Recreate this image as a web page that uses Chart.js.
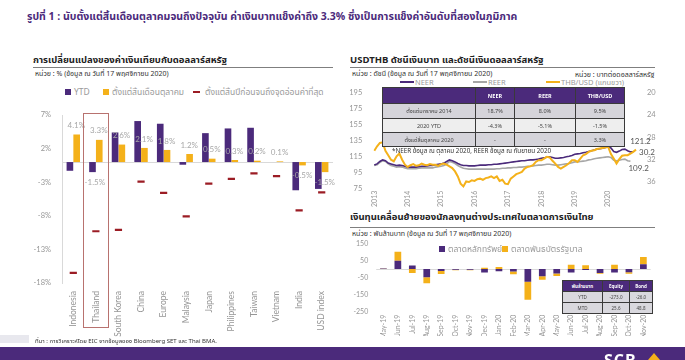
<!DOCTYPE html>
<html>
<head>
<meta charset="utf-8">
<title>ค่าเงินบาทและเงินทุนเคลื่อนย้าย</title>
<script src="https://cdn.jsdelivr.net/npm/chart.js"></script>
<style>
  body { margin: 0; background: #fff; font-family: "Noto Sans Thai", "Noto Sans", "DejaVu Sans", sans-serif; }
  #page { position: relative; width: 685px; height: 360px; overflow: hidden; background: #fff; }
  .t { position: absolute; white-space: nowrap; line-height: 1; }
  .box { position: absolute; }
  canvas { position: absolute; }
  .rule { position: absolute; height: 1px; background: #7f7f7f; }
  .lg { position: absolute; white-space: nowrap; font-size: 8.5px; color: #9a9a9a; line-height: 1; }
  .sq { display: inline-block; width: 6px; height: 6px; vertical-align: 0px; margin-right: 3px; }
  .ln { display: inline-block; width: 14px; height: 2px; vertical-align: 2px; margin-right: 1px; }
  table { position: absolute; border-collapse: collapse; table-layout: fixed; }
  td { border: 1px solid #3a3a3a; text-align: center; padding: 0; color: #444; overflow: hidden; white-space: nowrap; }
  tr.h td { background: #4b2a7b; color: #fff; font-weight: bold; }
</style>
</head>
<body>
<div id="page">
  <div class="t" style="left:27px;top:12px;font-size:10.5px;font-weight:bold;color:#4b2a7b;">รูปที่ 1 : นับตั้งแต่สิ้นเดือนตุลาคมจนถึงปัจจุบัน ค่าเงินบาทแข็งค่าถึง 3.3% ซึ่งเป็นการแข็งค่าอันดับที่สองในภูมิภาค</div>

  <!-- ซ้าย -->
  <div class="t" style="left:33px;top:56px;font-size:9.5px;font-weight:bold;color:#222;">การเปลี่ยนแปลงของค่าเงินเทียบกับดอลลาร์สหรัฐ</div>
  <div class="rule" style="left:33px;top:67px;width:300px;"></div>
  <div class="t" style="left:35px;top:71px;font-size:7px;color:#333;">หน่วย : % (ข้อมูล ณ วันที่ 17 พฤศจิกายน 2020)</div>
  <div class="lg" style="left:65px;top:89px;"><span class="sq" style="background:#4b2a7b"></span>YTD</div>
  <div class="lg" style="left:103px;top:89px;"><span class="sq" style="background:#f4b11a"></span>ตั้งแต่สิ้นเดือนตุลาคม</div>
  <div class="lg" style="left:193px;top:89px;"><span class="ln" style="width:7px;background:#9b1c24;margin-right:5px"></span>ตั้งแต่สิ้นปีก่อนจนถึงจุดอ่อนค่าที่สุด</div>
  <canvas id="fxChart" width="320" height="235" style="left:20px;top:105px;"></canvas>

  <!-- ขวาบน -->
  <div class="t" style="left:350px;top:56px;font-size:9.5px;font-weight:bold;color:#222;">USDTHB ดัชนีเงินบาท และดัชนีเงินดอลลาร์สหรัฐ</div>
  <div class="rule" style="left:350px;top:67px;width:305px;"></div>
  <div class="t" style="left:352px;top:71px;font-size:7px;color:#333;">หน่วย : ดัชนี (ข้อมูล ณ วันที่ 17 พฤศจิกายน 2020)</div>
  <div class="t" style="left:575px;top:72px;font-size:7px;color:#333;">หน่วย : บาทต่อดอลลาร์สหรัฐ</div>
  <div class="lg" style="left:400px;top:79px;font-size:7.5px;"><span class="ln" style="background:#4b2a7b"></span>NEER</div>
  <div class="lg" style="left:473px;top:79px;font-size:7.5px;"><span class="ln" style="background:#a6a6a6"></span>REER</div>
  <div class="lg" style="left:546px;top:79px;font-size:7.5px;"><span class="ln" style="background:#f4b11a"></span>THB/USD (แกนขวา)</div>
  <canvas id="idxChart" width="330" height="125" style="left:345px;top:85px;"></canvas>
  <table style="left:382px;top:87px;width:242px;font-size:5.5px;">
    <colgroup><col style="width:93px"><col style="width:39px"><col style="width:61px"><col style="width:49px"></colgroup>
    <tr class="h" style="height:16px"><td></td><td>NEER</td><td>REER</td><td>THB/USD</td></tr>
    <tr style="height:15px;background:#d5d4da"><td>ตั้งแต่มกราคม 2014</td><td>18.7%</td><td>8.0%</td><td>9.5%</td></tr>
    <tr style="height:14px;background:#eeeeee"><td>2020 YTD</td><td>-4.3%</td><td>-5.1%</td><td>-1.5%</td></tr>
    <tr style="height:14px;background:#d5d4da"><td>ตั้งแต่สิ้นตุลาคม 2020</td><td>-</td><td>-</td><td>3.3%</td></tr>
  </table>
  <div class="t" style="left:392px;top:148px;font-size:6.3px;color:#333;">*NEER ข้อมูล ณ ตุลาคม 2020, REER ข้อมูล ณ กันยายน 2020</div>

  <!-- ขวาล่าง -->
  <div class="t" style="left:350px;top:213px;font-size:9.5px;font-weight:bold;color:#222;">เงินทุนเคลื่อนย้ายของนักลงทุนต่างประเทศในตลาดการเงินไทย</div>
  <div class="rule" style="left:350px;top:227px;width:305px;"></div>
  <div class="t" style="left:352px;top:231px;font-size:7px;color:#333;">หน่วย : พันล้านบาท (ข้อมูล ณ วันที่ 17 พฤศจิกายน 2020)</div>
  <canvas id="flowChart" width="315" height="100" style="left:345px;top:236px;"></canvas>
  <div class="lg" style="left:439px;top:246px;"><span class="sq" style="background:#4b2a7b"></span>ตลาดหลักทรัพย์</div>
  <div class="lg" style="left:502px;top:246px;"><span class="sq" style="background:#f4b11a"></span>ตลาดพันธบัตรรัฐบาล</div>
  <table style="left:562px;top:280px;width:90px;font-size:4.5px;">
    <colgroup><col style="width:40px"><col style="width:27px"><col style="width:23px"></colgroup>
    <tr class="h" style="height:11px"><td>พันล้านบาท</td><td>Equity</td><td>Bond</td></tr>
    <tr style="height:11px;background:#d9d8de"><td>YTD</td><td>-273.0</td><td>-26.0</td></tr>
    <tr style="height:11px;background:#d9d8de"><td>MTD</td><td>25.6</td><td>48.8</td></tr>
  </table>

  <div class="box" style="left:0;top:335px;width:29px;height:8px;background:#e8e8ee;"></div>
  <div class="t" style="left:35px;top:339px;font-size:6px;color:#333;">ที่มา : การวิเคราะห์โดย EIC จากข้อมูลของ Bloomberg SET และ Thai BMA.</div>
  <div class="box" style="left:0;top:347px;width:685px;height:13px;background:#4b2a7b;"></div>
  <div class="t" style="left:604px;top:353px;font-size:16px;font-weight:bold;color:#fff;letter-spacing:1px;">SCB</div>
  <div class="box" style="left:648px;top:353px;width:0;height:0;border-left:6px solid transparent;border-right:6px solid transparent;border-bottom:7px solid #f4b11a;"></div>
</div>

<script>
  const PURPLE = '#4b2a7b';
  const ORANGE = '#f4b11a';
  const DASH_RED = '#9b1c24';
  const GRAY_TXT = '#969696';
  const FONT = 'Lato, "Noto Sans Thai", sans-serif';
  Chart.defaults.font.family = FONT;

  // scale paddings from tick labels would push the plot area down, so drop them
  function noPad(s) {
    s.paddingTop = 0; s.paddingBottom = 0; s.paddingLeft = 0; s.paddingRight = 0;
  }

  // ---- กราฟซ้าย: การเปลี่ยนแปลงของค่าเงิน (%)
  const countries = ['Indonesia', 'Thailand', 'South Korea', 'China', 'Europe', 'Malaysia',
                     'Japan', 'Philippines', 'Taiwan', 'Vietnam', 'India', 'USD index'];
  const ytd      = [-1.3, -1.5, 4.4, 6.1, 5.7, -0.4, 4.3, 5.0, 5.1, 0.0, -4.2, -4.0];
  const sinceOct = [4.1, 3.3, 2.6, 2.1, 1.8, 1.2, 0.5, 0.3, 0.2, 0.1, -0.5, -1.5];
  const worstPt  = [-16.5, -10.3, -10.1, -2.9, -4.6, -8.1, -3.2, -2.5, -1.7, -2.1, -7.2, -4.5];
  const highlight = 'Thailand';

  const fxPlugin = {
    id: 'fxExtras',
    beforeDatasetsDraw(chart) {
      const { ctx, chartArea, scales: { y } } = chart;
      const y0 = Math.round(y.getPixelForValue(0)) + 0.5;
      ctx.save();
      ctx.strokeStyle = '#d9d9d9';
      ctx.lineWidth = 1;
      ctx.beginPath();
      ctx.moveTo(chartArea.left, y0);
      ctx.lineTo(chartArea.right, y0);
      ctx.stroke();
      ctx.restore();
    },
    afterDatasetsDraw(chart) {
      const { ctx, scales: { x, y } } = chart;
      const barsOct = chart.getDatasetMeta(1).data;
      const barsYtd = chart.getDatasetMeta(0).data;
      ctx.save();
      ctx.font = '8px ' + FONT;
      ctx.fillStyle = '#a8a8a8';
      ctx.textAlign = 'center';
      ctx.textBaseline = 'middle';
      sinceOct.forEach((v, i) => {
        const cx = x.getPixelForValue(i) + 3;
        const yy = v >= 0 ? barsOct[i].y - 9 : barsOct[i].y + 10;
        ctx.fillText(v.toFixed(1) + '%', cx, yy);
      });
      const hi = countries.indexOf(highlight);
      ctx.fillText(ytd[hi].toFixed(1) + '%', x.getPixelForValue(hi) - 1, barsYtd[hi].y + 10);
      // กรอบเน้นประเทศไทย
      const half = 12.5;
      const cx = x.getPixelForValue(hi);
      ctx.strokeStyle = '#b8726f';
      ctx.lineWidth = 1;
      ctx.strokeRect(Math.round(cx - half) + 0.5, Math.round(y.getPixelForValue(7)) - 1.5, half * 2, 214);
      ctx.restore();
    }
  };

  new Chart(document.getElementById('fxChart'), {
    type: 'bar',
    data: {
      labels: countries,
      datasets: [
        { type: 'bar', label: 'YTD', data: ytd, backgroundColor: PURPLE,
          barPercentage: 0.98, categoryPercentage: 0.6, order: 1 },
        { type: 'bar', label: 'ตั้งแต่สิ้นเดือนตุลาคม', data: sinceOct, backgroundColor: ORANGE,
          barPercentage: 0.98, categoryPercentage: 0.6, order: 1 },
        { type: 'line', label: 'ตั้งแต่สิ้นปีก่อนจนถึงจุดอ่อนค่าที่สุด', data: worstPt, showLine: false,
          pointStyle: 'line', pointRadius: 3.6, pointBorderWidth: 2.2,
          borderColor: DASH_RED, backgroundColor: DASH_RED, order: 0 }
      ]
    },
    options: {
      responsive: false,
      animation: false,
      layout: { autoPadding: false, padding: { top: 10, right: 7, bottom: 0, left: 0 } },
      plugins: { legend: { display: false }, tooltip: { enabled: false } },
      scales: {
        x: {
          grid: { display: false, drawTicks: false },
          border: { display: false },
          ticks: { autoSkip: false, minRotation: 90, maxRotation: 90, padding: 8,
                   color: GRAY_TXT, font: { size: 8.5 } },
          afterFit(s) { s.height = 57; noPad(s); }
        },
        y: {
          min: -18, max: 7,
          grid: { display: false, drawTicks: false },
          border: { display: true, color: '#d9d9d9' },
          ticks: { stepSize: 5, padding: 11, color: GRAY_TXT, font: { size: 7.5 },
                   callback: v => v + '%' },
          afterFit(s) { s.width = 42; noPad(s); }
        }
      }
    },
    plugins: [fxPlugin]
  });

  // ---- กราฟขวาบน: ดัชนีค่าเงิน (รายเดือน ม.ค. 2013 - พ.ย. 2020)
  const years = [2013, 2014, 2015, 2016, 2017, 2018, 2019, 2020];
  const rightTicks = [20, 24, 28, 32, 36];
  const monthLabels = [];
  years.forEach(yr => {
    for (let m = 1; m <= 12; m++) {
      if (yr === 2020 && m > 11) break;
      monthLabels.push(yr + '-' + String(m).padStart(2, '0'));
    }
  });
  const neer = [
    104.5, 106, 109, 111, 110, 107, 106, 105, 104, 104.5, 104, 103,
    102, 102, 102, 102, 102.5, 103, 103, 103.5, 104, 104, 105, 105.5,
    106, 107, 109, 111, 110, 108.5, 106.5, 105, 104, 104, 103.5, 103.5,
    103.5, 104, 104.5, 104.5, 104.5, 105, 105, 105.5, 105.5, 106, 106.5, 107,
    107.5, 108, 108.5, 109, 109.5, 110, 110, 110.5, 111, 111, 111.5, 112,
    113, 113.5, 114.5, 115, 114, 113, 113, 113.5, 114, 115, 115.5, 116.5,
    118, 118.5, 119, 120, 120.5, 121.5, 122.5, 123.5, 124.5, 125, 125.5, 126.5,
    127.5, 126, 121.5, 120.5, 122, 124, 124.5, 122.5, 121, 121.2
  ];
  const reer = [
    104, 105, 108, 110, 109, 106, 104, 103, 102, 102.5, 102, 101,
    100, 100, 100, 100, 100.5, 101, 101, 101, 101, 101, 102, 102.5,
    103, 104, 106, 109, 108, 106.5, 104, 102, 100.5, 100, 99.5, 99.5,
    99.5, 99.5, 99.5, 99.5, 99.5, 99.5, 99.5, 99.5, 100, 100, 100.5, 100.5,
    101, 101, 101.5, 101.5, 102, 102, 102.5, 103, 103, 103.5, 104, 104.5,
    104.5, 105, 105.5, 105.5, 105, 104.5, 104.5, 105, 105.5, 106, 106.5, 107.5,
    108.5, 108.5, 109, 109.5, 110, 111, 111.5, 112.5, 113, 113.5, 114, 114.5,
    115, 114, 110.5, 110, 110.5, 111.5, 112, 110, 109.2
  ];
  const thbUsd = [
    30.4, 29.6, 29.0, 28.9, 30.4, 31.2, 32.0, 32.3, 31.4, 30.9, 32.0, 32.9,
    33.3, 33.0, 32.8, 33.1, 33.0, 32.7, 32.9, 33.0, 32.8, 32.9, 32.9, 33.1,
    32.8, 32.7, 32.9, 33.2, 33.5, 34.1, 35.0, 36.3, 36.8, 35.9, 36.0, 35.7,
    35.8, 35.5, 35.4, 35.6, 35.3, 35.2, 35.0, 35.3, 35.0, 35.8, 35.6, 36.3,
    36.4, 35.4, 35.0, 34.6, 34.4, 34.2, 33.6, 33.3, 33.2, 33.0, 32.4, 32.1,
    32.1, 31.8, 31.5, 31.6, 32.2, 32.7, 33.3, 33.6, 33.3, 33.0, 32.6, 32.1,
    32.1, 32.4, 31.8, 31.2, 31.0, 30.6, 30.4, 30.3, 30.1, 30.0, 29.9, 29.8,
    29.7, 31.0, 31.8, 32.7, 31.9, 31.3, 31.2, 31.2, 30.9, 30.6, 30.2
  ];

  const idxPlugin = {
    id: 'idxLabels',
    afterDatasetsDraw(chart) {
      const { ctx } = chart;
      const pN = chart.getDatasetMeta(0).data[neer.length - 1];
      const pR = chart.getDatasetMeta(1).data[reer.length - 1];
      const pT = chart.getDatasetMeta(2).data[thbUsd.length - 1];
      ctx.save();
      ctx.font = '8px ' + FONT;
      ctx.fillStyle = '#555';
      ctx.textBaseline = 'middle';
      ctx.textAlign = 'left';
      ctx.fillText(neer[neer.length - 1].toFixed(1), pN.x - 3, pN.y - 10);
      ctx.fillText(thbUsd[thbUsd.length - 1].toFixed(1), pT.x + 3, pT.y + 3);
      ctx.fillText(reer[reer.length - 1].toFixed(1), pR.x - 2, pR.y + 7);
      ctx.restore();
    }
  };

  new Chart(document.getElementById('idxChart'), {
    type: 'line',
    data: {
      labels: monthLabels,
      datasets: [
        { label: 'NEER', data: neer, borderColor: PURPLE, borderWidth: 1.6, pointRadius: 0,
          yAxisID: 'y', order: 1 },
        { label: 'REER', data: reer, borderColor: '#a6a6a6', borderWidth: 1.6, pointRadius: 0,
          yAxisID: 'y', order: 2 },
        { label: 'THB/USD (แกนขวา)', data: thbUsd, borderColor: ORANGE, borderWidth: 2, pointRadius: 0,
          yAxisID: 'y1', order: 0 }
      ]
    },
    options: {
      responsive: false,
      animation: false,
      layout: { autoPadding: false, padding: { top: 7.7, right: 0, bottom: 0, left: 0 } },
      plugins: { legend: { display: false }, tooltip: { enabled: false } },
      scales: {
        x: {
          grid: { display: false, drawTicks: false },
          border: { display: false },
          ticks: { autoSkip: false, minRotation: 90, maxRotation: 90, padding: 2,
                   color: GRAY_TXT, font: { size: 7 },
                   callback: (v, i) => monthLabels[i].endsWith('-01') ? monthLabels[i].slice(0, 4) : '' },
          afterFit(s) { s.height = 21.3; noPad(s); }
        },
        y: {
          position: 'left', min: 75, max: 195,
          grid: { display: false, drawTicks: false },
          border: { display: false },
          ticks: { stepSize: 20, padding: 12, color: GRAY_TXT, font: { size: 7.5 } },
          afterFit(s) { s.width = 29.3; noPad(s); }
        },
        y1: {
          position: 'right', reverse: true, min: 20, max: 37.2,
          grid: { display: false, drawTicks: false },
          border: { display: false },
          ticks: { padding: 11, color: GRAY_TXT, font: { size: 7.5 } },
          afterBuildTicks(s) { s.ticks = rightTicks.map(v => ({ value: v })); },
          afterFit(s) { s.width = 39; noPad(s); }
        }
      }
    },
    plugins: [idxPlugin]
  });

  // ---- กราฟขวาล่าง: เงินทุนเคลื่อนย้าย (พันล้านบาท)
  const flowMonths = ['May-19', 'Jun-19', 'Jul-19', 'Aug-19', 'Sep-19', 'Oct-19', 'Nov-19', 'Dec-19',
                      'Jan-20', 'Feb-20', 'Mar-20', 'Apr-20', 'May-20', 'Jun-20', 'Jul-20', 'Aug-20',
                      'Sep-20', 'Oct-20', 'Nov-20'];
  const equity = [2, 48, 20, -48, -12, -5, -5, -21, -14, -15, -75, -43, -27, -21, -6, -23, -21, -20, 27];
  const bond   = [2, 52, -23, -35, -18, -3, -3, 7, 12, -16, -105, -20, -14, 25, 21, -5, 25, -8, 43];

  const zeroLine = {
    id: 'zeroLine',
    beforeDatasetsDraw(chart) {
      const { ctx, chartArea, scales: { y } } = chart;
      const y0 = Math.round(y.getPixelForValue(0)) + 0.5;
      ctx.save();
      ctx.strokeStyle = '#d9d9d9';
      ctx.beginPath();
      ctx.moveTo(chartArea.left, y0);
      ctx.lineTo(chartArea.right, y0);
      ctx.stroke();
      ctx.restore();
    }
  };

  new Chart(document.getElementById('flowChart'), {
    type: 'bar',
    data: {
      labels: flowMonths,
      datasets: [
        { label: 'ตลาดหลักทรัพย์', data: equity, backgroundColor: PURPLE,
          barPercentage: 0.93, categoryPercentage: 0.5 },
        { label: 'ตลาดพันธบัตรรัฐบาล', data: bond, backgroundColor: ORANGE,
          barPercentage: 0.93, categoryPercentage: 0.5 }
      ]
    },
    options: {
      responsive: false,
      animation: false,
      layout: { autoPadding: false, padding: { top: 7.3, right: 9.4, bottom: 0, left: 0 } },
      plugins: { legend: { display: false }, tooltip: { enabled: false } },
      scales: {
        x: {
          stacked: true,
          grid: { display: false, drawTicks: false },
          border: { display: false },
          ticks: { autoSkip: false, minRotation: 90, maxRotation: 90, padding: 3,
                   color: GRAY_TXT, font: { size: 7 } },
          afterFit(s) { s.height = 24.3; noPad(s); }
        },
        y: {
          stacked: true, min: -250, max: 150,
          grid: { display: false, drawTicks: false },
          border: { display: false },
          ticks: { stepSize: 100, padding: 8, color: GRAY_TXT, font: { size: 7 } },
          afterFit(s) { s.width = 31.2; noPad(s); }
        }
      }
    },
    plugins: [zeroLine]
  });
</script>
</body>
</html>
